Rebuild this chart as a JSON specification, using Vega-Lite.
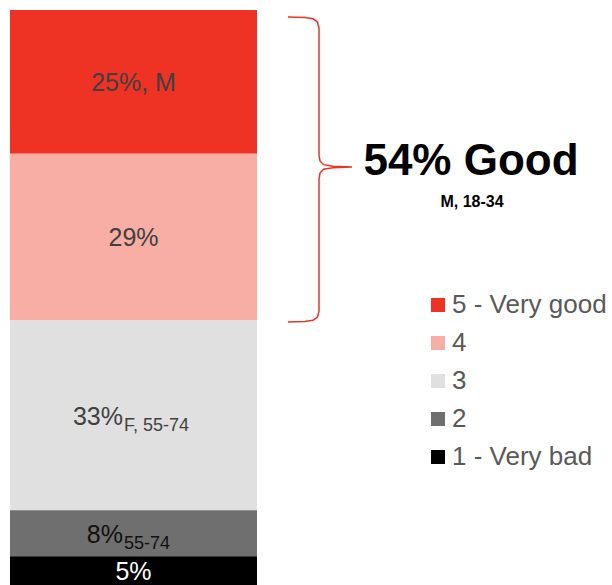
{
  "$schema": "https://vega.github.io/schema/vega-lite/v6.json",
  "width": 612,
  "height": 575,
  "autosize": {"type": "none"},
  "padding": {"left": 0, "top": 10, "right": 0, "bottom": 0},
  "config": {"view": {"stroke": null}, "font": "Liberation Sans"},
  "datasets": {
    "ratings": [
      {"rating": "5 - Very good", "share": 25, "rank": 5, "label": "25%, M", "sub": ""},
      {"rating": "4", "share": 29, "rank": 4, "label": "29%", "sub": ""},
      {"rating": "3", "share": 33, "rank": 3, "label": "33%", "sub": "F, 55-74"},
      {"rating": "2", "share": 8, "rank": 2, "label": "8%", "sub": "55-74"},
      {"rating": "1 - Very bad", "share": 5, "rank": 1, "label": "5%", "sub": ""}
    ],
    "brace": [
      {"i": 0, "bx": 288, "by": 98.78},
      {"i": 1, "bx": 305, "by": 98.70},
      {"i": 2, "bx": 313, "by": 98.47},
      {"i": 3, "bx": 317.5, "by": 97.91},
      {"i": 4, "bx": 319, "by": 96.87},
      {"i": 5, "bx": 319, "by": 74.78},
      {"i": 6, "bx": 320, "by": 73.74},
      {"i": 7, "bx": 323.5, "by": 73.10},
      {"i": 8, "bx": 333, "by": 72.82},
      {"i": 9, "bx": 352, "by": 72.70},
      {"i": 10, "bx": 333, "by": 72.57},
      {"i": 11, "bx": 323.5, "by": 72.30},
      {"i": 12, "bx": 320, "by": 71.65},
      {"i": 13, "bx": 319, "by": 70.61},
      {"i": 14, "bx": 319, "by": 47.65},
      {"i": 15, "bx": 317.5, "by": 46.61},
      {"i": 16, "bx": 313, "by": 46.05},
      {"i": 17, "bx": 305, "by": 45.83},
      {"i": 18, "bx": 288, "by": 45.74}
    ],
    "headline": [
      {"big": "54% Good", "small": "M, 18-34"}
    ]
  },
  "layer": [
    {
      "data": {"name": "ratings"},
      "transform": [
        {"stack": "share", "groupby": [], "sort": [{"field": "rank", "order": "ascending"}], "as": ["lo", "hi"]}
      ],
      "mark": {"type": "rect"},
      "encoding": {
        "x": {"datum": 10, "type": "quantitative", "scale": {"domain": [0, 612], "nice": false, "zero": false}, "axis": null},
        "x2": {"datum": 257},
        "y": {"field": "lo", "type": "quantitative", "scale": {"domain": [0, 100], "nice": false}, "axis": null},
        "y2": {"field": "hi"},
        "color": {
          "field": "rating",
          "type": "nominal",
          "scale": {
            "domain": ["5 - Very good", "4", "3", "2", "1 - Very bad"],
            "range": ["#EE3224", "#F8ADA5", "#E0E0E0", "#6F6F6F", "#000000"]
          },
          "legend": {
            "orient": "none",
            "legendX": 425,
            "legendY": 282,
            "title": null,
            "symbolType": "square",
            "symbolSize": 196,
            "symbolStrokeWidth": 0,
            "symbolOpacity": 1,
            "labelFontSize": 26,
            "labelColor": "#595959",
            "labelFont": "Liberation Sans",
            "labelLimit": 300,
            "rowPadding": 12,
            "labelOffset": 1,
            "padding": 0
          }
        }
      }
    },
    {
      "data": {"name": "ratings"},
      "transform": [
        {"stack": "share", "groupby": [], "sort": [{"field": "rank", "order": "ascending"}], "as": ["lo", "hi"]},
        {"calculate": "(datum.lo + datum.hi) / 2", "as": "mid"},
        {"filter": "datum.sub === ''"}
      ],
      "mark": {"type": "text", "fontSize": 25, "align": "center", "baseline": "alphabetic", "dy": 9},
      "encoding": {
        "x": {"datum": 133.5, "type": "quantitative"},
        "y": {"field": "mid", "type": "quantitative"},
        "text": {"field": "label"},
        "color": {"condition": {"test": "datum.rank === 1", "value": "#FFFFFF"}, "value": "#404040"}
      }
    },
    {
      "data": {"name": "ratings"},
      "transform": [
        {"stack": "share", "groupby": [], "sort": [{"field": "rank", "order": "ascending"}], "as": ["lo", "hi"]},
        {"calculate": "(datum.lo + datum.hi) / 2", "as": "mid"},
        {"filter": "datum.sub !== ''"}
      ],
      "mark": {"type": "text", "fontSize": 25, "align": "right", "baseline": "alphabetic", "dy": 10},
      "encoding": {
        "x": {"datum": 123, "type": "quantitative"},
        "y": {"field": "mid", "type": "quantitative"},
        "text": {"field": "label"},
        "color": {"condition": {"test": "datum.rank === 2", "value": "#111111"}, "value": "#404040"}
      }
    },
    {
      "data": {"name": "ratings"},
      "transform": [
        {"stack": "share", "groupby": [], "sort": [{"field": "rank", "order": "ascending"}], "as": ["lo", "hi"]},
        {"calculate": "(datum.lo + datum.hi) / 2", "as": "mid"},
        {"filter": "datum.sub !== ''"}
      ],
      "mark": {"type": "text", "fontSize": 18, "align": "left", "baseline": "alphabetic", "dy": 16},
      "encoding": {
        "x": {"datum": 124, "type": "quantitative"},
        "y": {"field": "mid", "type": "quantitative"},
        "text": {"field": "sub"},
        "color": {"condition": {"test": "datum.rank === 2", "value": "#111111"}, "value": "#404040"}
      }
    },
    {
      "data": {"name": "brace"},
      "mark": {"type": "line", "color": "#EE3224", "strokeWidth": 1.5, "interpolate": "linear"},
      "encoding": {
        "x": {"field": "bx", "type": "quantitative"},
        "y": {"field": "by", "type": "quantitative"},
        "order": {"field": "i", "type": "quantitative"}
      }
    },
    {
      "data": {"name": "headline"},
      "mark": {"type": "text", "fontSize": 44, "fontWeight": "bold", "align": "center", "baseline": "alphabetic", "color": "#000000"},
      "encoding": {
        "x": {"datum": 471, "type": "quantitative"},
        "y": {"datum": 71.3, "type": "quantitative"},
        "text": {"field": "big"}
      }
    },
    {
      "data": {"name": "headline"},
      "mark": {"type": "text", "fontSize": 16, "fontWeight": "bold", "align": "center", "baseline": "alphabetic", "color": "#000000"},
      "encoding": {
        "x": {"datum": 472, "type": "quantitative"},
        "y": {"datum": 65.7, "type": "quantitative"},
        "text": {"field": "small"}
      }
    }
  ]
}
